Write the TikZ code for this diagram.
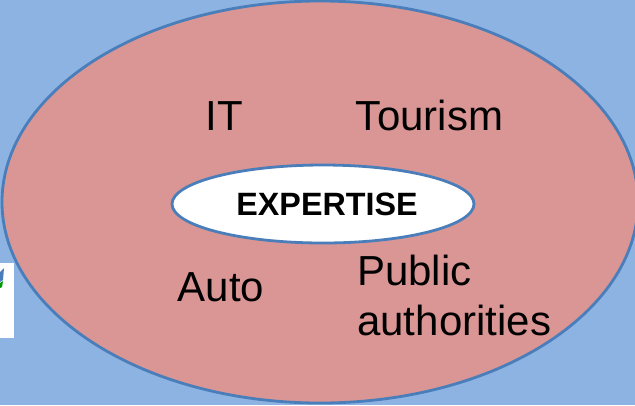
\documentclass[tikz,border=0pt]{standalone}
\usepackage{fontspec}
\setmainfont{Liberation Sans}
\usepackage{xcolor}
\usetikzlibrary{shapes.geometric}
\definecolor{bgblue}{RGB}{141,179,226}
\definecolor{rosefill}{RGB}{217,150,148}
\definecolor{rimblue}{RGB}{74,126,187}

\begin{document}
\begin{tikzpicture}[x=0.75pt,y=0.75pt,yscale=-1,xscale=1]
\tikzset{
  field/.style={anchor=base,inner sep=0pt,font=\fontsize{31.5}{37}\selectfont},
}
%Background
\fill [bgblue] (0,0) rectangle (635,405);
\useasboundingbox (0,0) rectangle (635,405);

%Shape: small white box at left border
\fill [white] (0,263) rectangle (14,338);
\fill [rimblue] (0,272) -- (4,268) -- (3,280) -- (0,282) -- cycle;
\fill [green!60!black] (0,283) -- (3,281) -- (2,287) -- (0,288) -- cycle;

%Shape: Ellipse [outer]
\draw [color=rimblue ,line width=2.1] [fill=rosefill] (320,202) ellipse [x radius=318, y radius=201];

%Shape: Ellipse [inner]
\node (core) [ellipse,draw=rimblue,line width=2.1,fill=white,minimum width=226.5pt,minimum height=58.5pt,inner sep=0pt] at (323,204) {};
% Text Node
\draw (327,215) node (expertise) [anchor=base,inner sep=0pt,font=\bfseries\fontsize{24.2}{28}\selectfont] {EXPERTISE};

% Text Node
\draw (224,130) node (it) [field] {IT};
% Text Node
\draw (429.5,130) node (tourism) [field] {Tourism};
% Text Node
\draw (221,301) node (auto) [field] {Auto};
% Text Node
\draw (357,335) node (public) [field,anchor=base west,align=left] {Public\\authorities};

\end{tikzpicture}
\end{document}
